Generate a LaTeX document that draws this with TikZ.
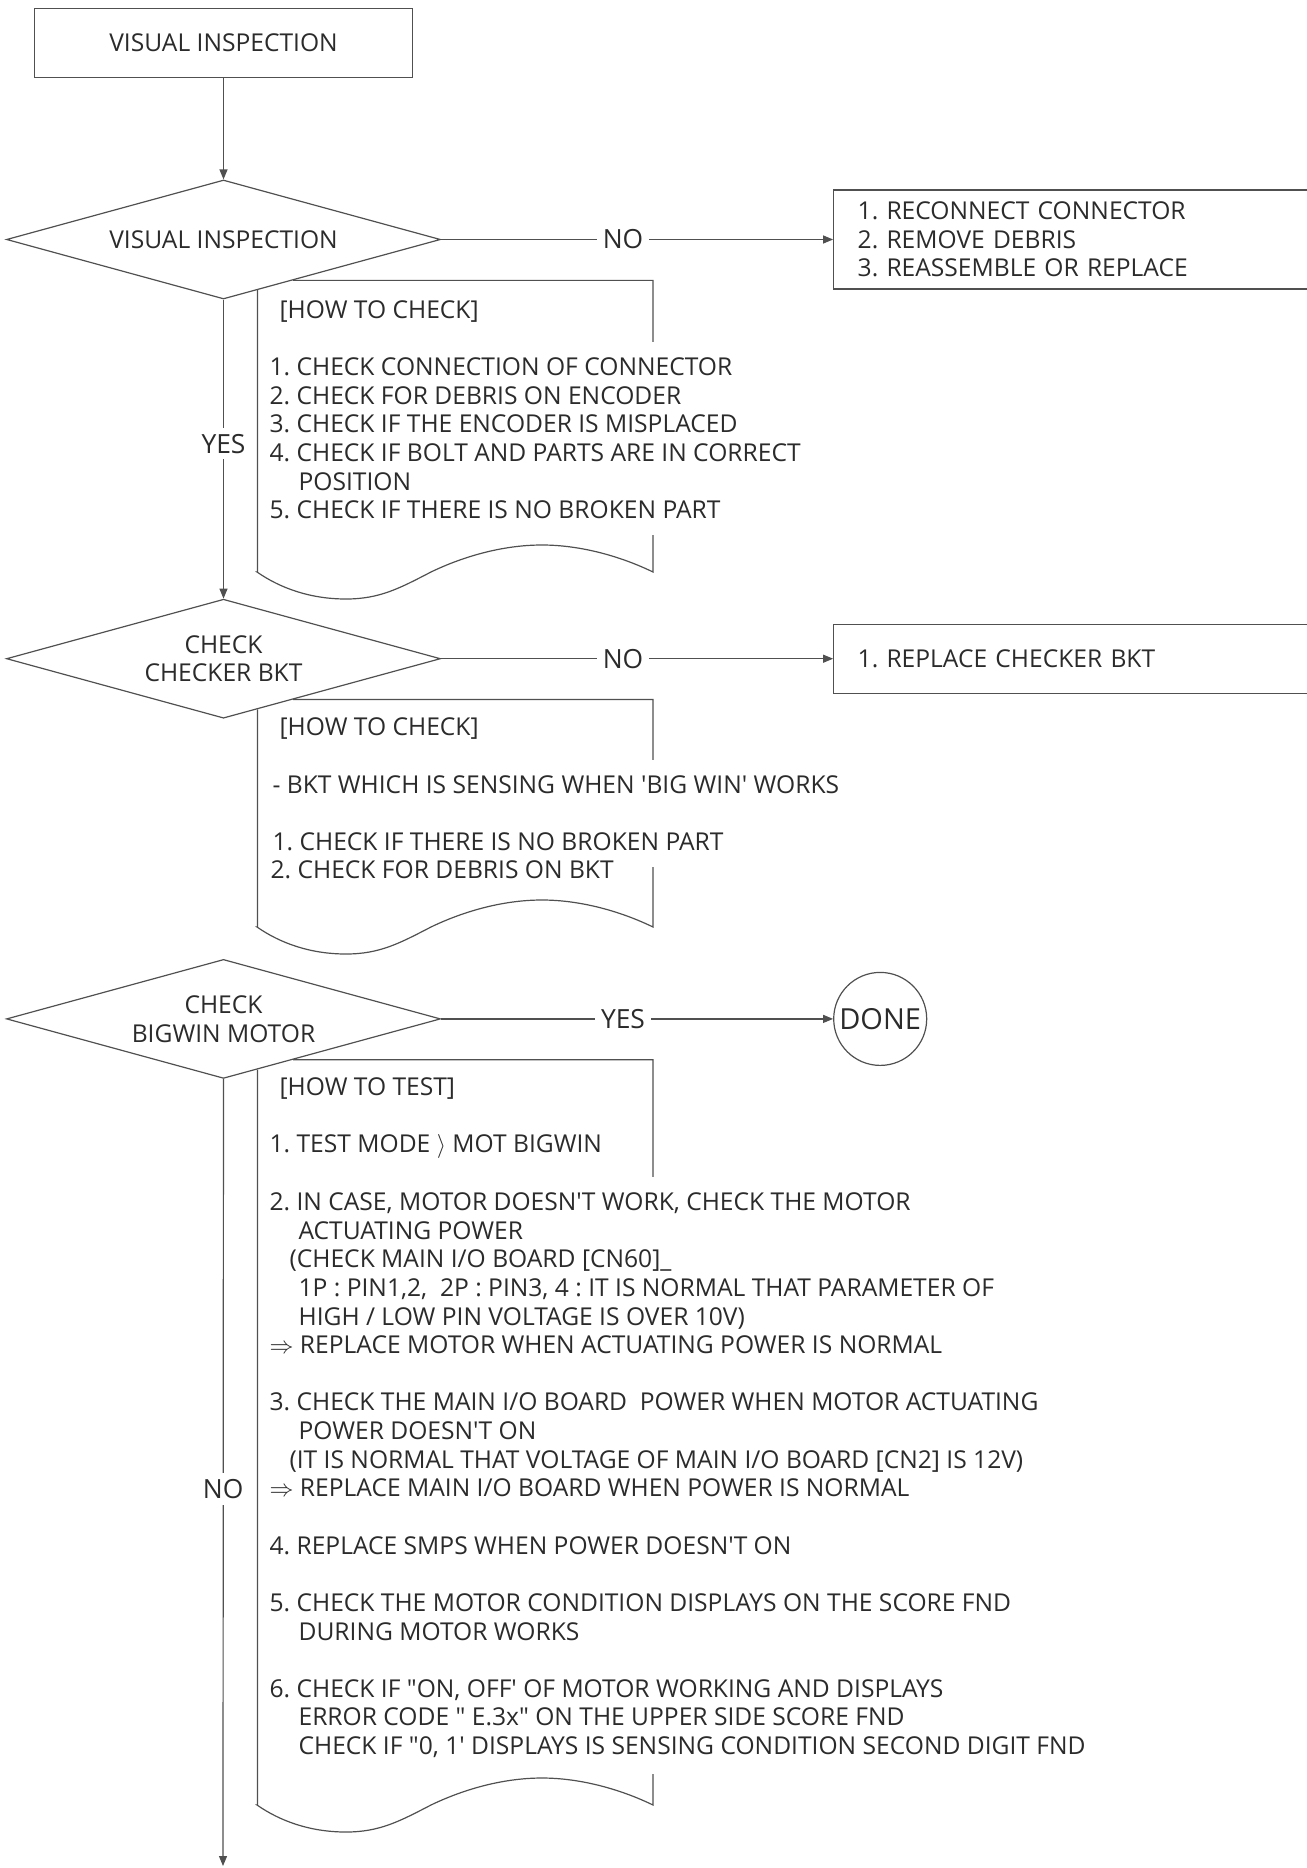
\documentclass[tikz,border=0pt]{standalone}
\usepackage{fontspec}
\setmainfont{Open Sans}
\usetikzlibrary{positioning, arrows.meta, shapes.geometric, calc}
\definecolor{Linija}{HTML}{505050}
\definecolor{Tekst}{HTML}{2B2B2B}
\newcommand{\dquote}{\textquotedbl}
\newcommand{\squote}{\textquotesingle}
\newcommand{\uvuci}{\hspace*{14.5pt}}
\newcommand{\uvucz}{\hspace*{10pt}}
\frenchspacing
\tikzset{
  kutija/.style  = {rectangle, draw=Linija, text=Tekst, inner sep=0pt},
  odluka/.style  = {diamond, draw=Linija, text=Tekst, aspect=3.65, align=center,
                    minimum width=217pt, minimum height=59.5pt, inner sep=0pt},
  kraj/.style    = {circle, draw=Linija, text=Tekst, minimum size=46.5pt, inner sep=0pt,
                    font=\fontsize{14.5}{17}\selectfont},
  oznaka/.style  = {fill=white, text=Tekst, inner sep=3pt,
                    font=\fontsize{13.2}{15}\selectfont},
  naslov/.style  = {anchor=base west, text=Tekst, inner sep=0pt},
  spis/.style    = {anchor=north west, align=left, text=Tekst, fill=white,
                    inner xsep=2pt, inner ysep=8pt},
  tok/.style     = {-{Triangle[length=5pt, width=4pt]}, draw=Linija},
  rub/.style     = {draw=Linija},
}

\begin{document}
\begin{tikzpicture}[x=0.5pt, y=-0.5pt, line width=0.6pt,
    font=\fontsize{12.3}{14.32}\selectfont]
  \useasboundingbox (0,0) rectangle (1306,1868);

  \node[kutija, minimum width=188.85pt, minimum height=34.6pt] (vis) at (223.5,43) {VISUAL INSPECTION};
  \node[odluka, below=50.6pt of vis]  (chk1) {VISUAL INSPECTION};
  \node[odluka, below=149.5pt of chk1] (chk2) {CHECK\\CHECKER BKT};
  \node[odluka, below=120pt of chk2]   (chk3) {CHECK\\BIGWIN MOTOR};

  \node[kutija, right=196pt of chk1, minimum width=243.5pt, minimum height=49.5pt,
        align=left, text width=219.5pt, inner xsep=12pt] (fix1)
        {1. RECONNECT CONNECTOR\\2. REMOVE DEBRIS\\3. REASSEMBLE OR REPLACE};
  \node[kutija, right=196pt of chk2, minimum width=243.5pt, minimum height=34.5pt,
        align=left, text width=219.5pt, inner xsep=12pt] (fix2)
        {1. REPLACE CHECKER BKT};
  \node[kraj, right=196pt of chk3] (done) {DONE};
  \coordinate (dno) at (223,1866);

  \draw[tok] (vis) -- (chk1);
  \draw[tok] (chk1) -- node[oznaka, pos=0.464] {NO} (fix1);
  \draw[tok] (chk1) -- node[oznaka, pos=0.482] {YES} (chk2);
  \draw[tok] (chk2) -- node[oznaka, pos=0.464] {NO} (fix2);
  \draw[tok] (chk3) -- node[oznaka, pos=0.464] {YES} (done);
  \draw[tok] (chk3) -- node[oznaka, pos=0.521] {NO} (dno);

  % note sheets hanging under the diamonds
  \foreach \d/\y in {chk1/572, chk2/927, chk3/1805} {
    \coordinate (gore) at ($(\d.south)!0.32!(\d.east)$);
    \coordinate (levo) at ($(\d.south)!0.156!(\d.east)$);
    \draw[rub] (gore) -- (gore -| 653,0) -- (653,\y)
      .. controls (620,\y-16) and (580,\y-27) .. (542,\y-27)
      .. controls (500,\y-27) and (460,\y-14) .. (431,\y)
      .. controls (400,\y+16) and (380,\y+27) .. (346,\y+27)
      .. controls (310,\y+27) and (280,\y+16) .. (257,\y)
      -- (levo |- 0,\y) -- (levo);
  }

  \node[naslov] (h1) at (279,318) {[HOW TO CHECK]};
  \node[spis] (s1) at (265,341)
    {1. CHECK CONNECTION OF CONNECTOR\\
     2. CHECK FOR DEBRIS ON ENCODER\\
     3. CHECK IF THE ENCODER IS MISPLACED\\
     4. CHECK IF BOLT AND PARTS ARE IN CORRECT\\
     \uvuci POSITION\\
     5. CHECK IF THERE IS NO BROKEN PART};

  \node[naslov] (h2) at (279,735) {[HOW TO CHECK]};
  \node[spis] (s2) at (268,759)
    {- BKT WHICH IS SENSING WHEN \squote BIG WIN\squote{} WORKS\\[14.32pt]
     1. CHECK IF THERE IS NO BROKEN PART};
  \node[naslov] (s2b) at (270,878) {2. CHECK FOR DEBRIS ON BKT};

  \node[naslov] (h3) at (279,1095) {[HOW TO TEST]};
  \node[naslov] (t1) at (269,1152) {1. TEST MODE $\rangle$ MOT BIGWIN};
  \node[spis] (s3) at (265,1176)
    {2. IN CASE, MOTOR DOESN\squote T WORK, CHECK THE MOTOR\\
     \uvuci ACTUATING POWER\\
     \uvucz (CHECK MAIN I/O BOARD [CN60]\_\\
     \uvuci 1P : PIN1,2,\ \ 2P : PIN3, 4 : IT IS NORMAL THAT PARAMETER OF\\
     \uvuci HIGH / LOW PIN VOLTAGE IS OVER 10V)\\
     $\Rightarrow$ REPLACE MOTOR WHEN ACTUATING POWER IS NORMAL\\[14.32pt]
     3. CHECK THE MAIN I/O BOARD\ \ POWER WHEN MOTOR ACTUATING\\
     \uvuci POWER DOESN\squote T ON\\
     \uvucz (IT IS NORMAL THAT VOLTAGE OF MAIN I/O BOARD [CN2] IS 12V)\\
     $\Rightarrow$ REPLACE MAIN I/O BOARD WHEN POWER IS NORMAL\\[14.32pt]
     4. REPLACE SMPS WHEN POWER DOESN\squote T ON\\[14.32pt]
     5. CHECK THE MOTOR CONDITION DISPLAYS ON THE SCORE FND\\
     \uvuci DURING MOTOR WORKS\\[14.32pt]
     6. CHECK IF \dquote ON, OFF\squote{} OF MOTOR WORKING AND DISPLAYS\\
     \uvuci ERROR CODE \dquote{} E.3x\dquote{} ON THE UPPER SIDE SCORE FND\\
     \uvuci CHECK IF \dquote 0, 1\squote{} DISPLAYS IS SENSING CONDITION SECOND DIGIT FND};
\end{tikzpicture}
\end{document}
